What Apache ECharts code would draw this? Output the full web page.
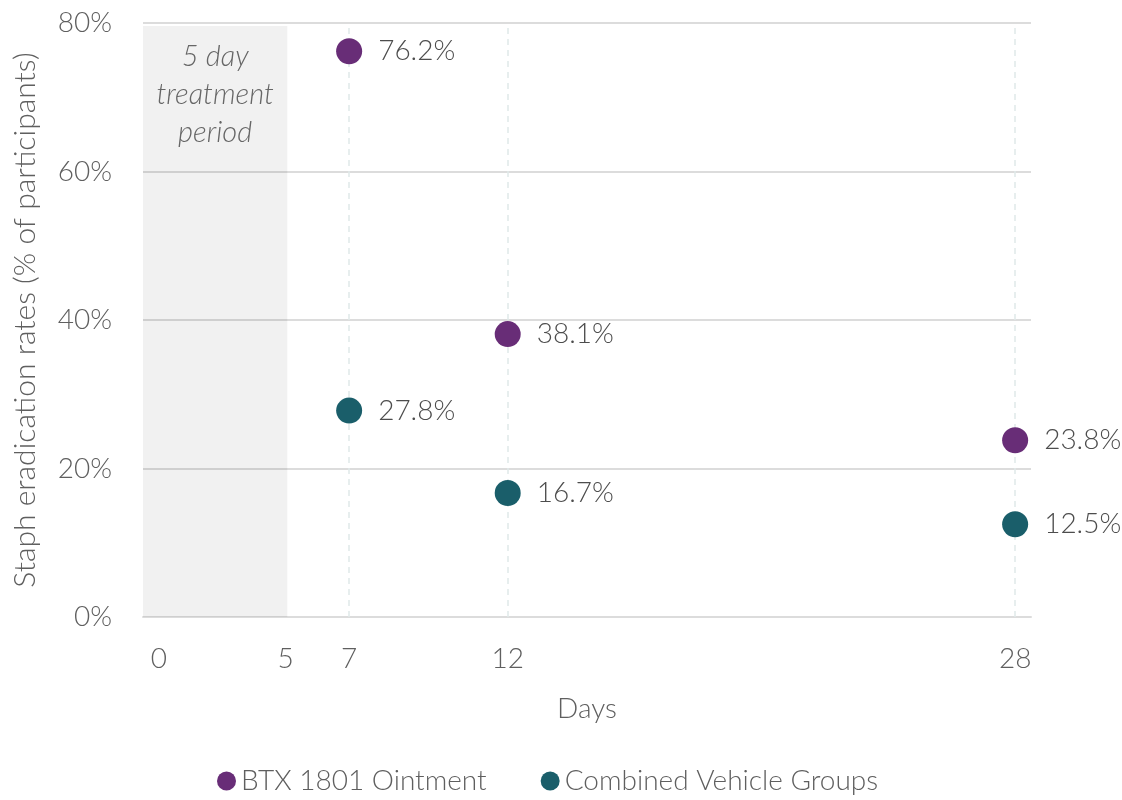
<!DOCTYPE html>
<html>
<head>
<meta charset="utf-8">
<script src="https://cdn.jsdelivr.net/npm/echarts@6/dist/echarts.min.js"></script>
<style>
  html, body { margin: 0; padding: 0; background: #fff; }
  #chart { width: 1122px; height: 800px; }
</style>
</head>
<body>
<div id="chart"></div>
<script>
var days = [7, 12, 28];
var btx = [76.2, 38.1, 23.8];
var vehicle = [27.8, 16.7, 12.5];
var dayTicks = [1, 5, 7, 12, 28];
var dayTickLabels = ['0', '5', '7', '12', '28'];

var FONT = 'Lato';
var TXT = '#5f5f5f';

var chart = echarts.init(document.getElementById('chart'));

function pairs(xs, ys) {
  return xs.map(function (x, i) { return [x, ys[i]]; });
}

function pointLabel() {
  return {
    show: true,
    position: 'right',
    distance: 16,
    formatter: function (p) { return p.value[1].toFixed(1) + '%'; },
    fontFamily: FONT, fontSize: 28, color: '#4d4d4d', fontWeight: 300
  };
}

var option = {
  animation: false,
  textStyle: { fontFamily: FONT },
  grid: { left: 143, right: 91, top: 23, bottom: 183, outerBoundsMode: 'none', containLabel: false },
  legend: {
    bottom: 0,
    left: 212,
    itemGap: 54,
    itemWidth: 19,
    itemHeight: 19,
    icon: 'circle',
    textStyle: { fontFamily: FONT, fontSize: 28, color: TXT, fontWeight: 300 },
    data: ['BTX 1801 Ointment', 'Combined Vehicle Groups']
  },
  xAxis: {
    type: 'value',
    min: 0.5,
    max: 28.5,
    name: 'Days',
    nameLocation: 'middle',
    nameGap: 78,
    nameTextStyle: { fontFamily: FONT, fontSize: 28, color: TXT, fontWeight: 300 },
    axisLine: { show: true, lineStyle: { color: '#dcdcdc', width: 2 } },
    axisTick: { show: false },
    splitLine: { show: false },
    axisLabel: {
      customValues: dayTicks,
      formatter: function (v) { return dayTickLabels[dayTicks.indexOf(v)]; },
      margin: 28,
      fontFamily: FONT, fontSize: 28, color: TXT, fontWeight: 300
    }
  },
  yAxis: {
    type: 'value',
    min: 0,
    max: 80,
    interval: 20,
    name: 'Staph eradication rates (% of participants)',
    nameLocation: 'middle',
    nameGap: 103,
    nameTextStyle: { fontFamily: FONT, fontSize: 30, color: TXT, fontWeight: 300 },
    axisLine: { show: false },
    axisTick: { show: false },
    splitLine: { lineStyle: { color: '#dcdcdc', width: 2 } },
    axisLabel: {
      formatter: '{value}%',
      margin: 31,
      fontFamily: FONT, fontSize: 28, color: TXT, fontWeight: 300
    }
  },
  series: [
    {
      name: 'treatment',
      type: 'scatter',
      data: [],
      silent: true,
      markArea: {
        silent: true,
        itemStyle: { color: 'rgba(0,0,0,0.055)' },
        label: {
          show: true,
          position: 'insideTop',
          distance: 12,
          formatter: '5 day\ntreatment\nperiod',
          fontFamily: FONT, fontSize: 29, fontStyle: 'italic', fontWeight: 300,
          color: '#666', lineHeight: 38
        },
        data: [[{ xAxis: 0.5, yAxis: 0 }, { xAxis: 5.05, yAxis: 79.6 }]]
      },
      markLine: {
        silent: true,
        symbol: 'none',
        label: { show: false },
        lineStyle: { color: '#dfe9e9', type: [6, 5], width: 1.5 },
        data: days.map(function (d) { return { xAxis: d }; })
      }
    },
    {
      name: 'BTX 1801 Ointment',
      type: 'scatter',
      symbolSize: 26,
      itemStyle: { color: '#682d77', opacity: 1 },
      data: pairs(days, btx),
      label: pointLabel(),
      z: 5
    },
    {
      name: 'Combined Vehicle Groups',
      type: 'scatter',
      symbolSize: 26,
      itemStyle: { color: '#1a5e6a', opacity: 1 },
      data: pairs(days, vehicle),
      label: pointLabel(),
      z: 5
    }
  ]
};

chart.setOption(option);
</script>
</body>
</html>
